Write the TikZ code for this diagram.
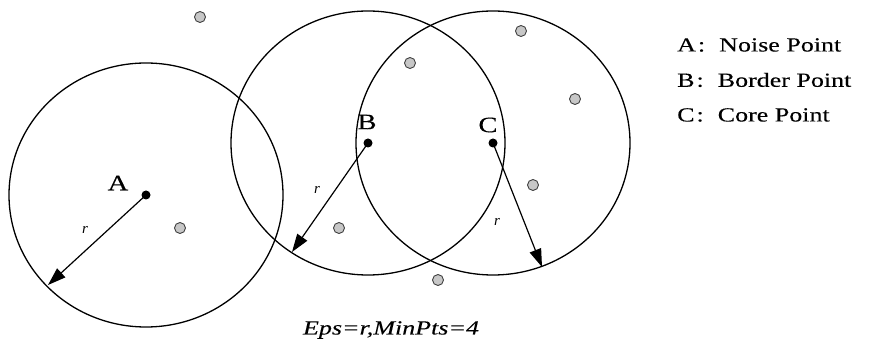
\documentclass[tikz,border=0pt]{standalone}
\usepackage{fontspec}
\setmainfont{Liberation Serif}
\newfontfamily\widefont[FakeStretch=1.3, FakeBold=0.2]{Liberation Serif}
\usetikzlibrary{arrows.meta}

\begin{document}
\begin{tikzpicture}[x=1pt, y=-1pt,
  ctr/.style={circle, fill=black, inner sep=0pt, minimum size=9pt},
  nbr/.style={circle, draw=black!75, fill=black!22, line width=0.9pt, inner sep=0pt, minimum size=11pt},
  rng/.style={line width=1.3pt},
  arr/.style={-{Triangle[length=18pt, width=12pt]}, line width=1.2pt},
  lbl/.style={font=\widefont\fontsize{22}{25}\selectfont, inner sep=0pt},
  rad/.style={font=\itshape\fontsize{15}{17}\selectfont, inner sep=0pt},
  leg/.style={font=\widefont\fontsize{20}{24}\selectfont, anchor=west, inner sep=0pt}
]
  \useasboundingbox (0,0) rectangle (870,352);

  % the three points and their Eps rings
  \node[ctr] (a) at (146,195) {};
  \node[ctr] (b) at (368,143) {};
  \node[ctr] (c) at (493,143) {};
  \draw[rng] (a.center) circle[x radius=137, y radius=132];
  \draw[rng] (b.center) circle[x radius=137, y radius=132];
  \draw[rng] (c.center) circle[x radius=137, y radius=132];

  % other points
  \node[nbr] (p1) at (200,17) {};
  \node[nbr] (p2) at (180,228) {};
  \node[nbr] (p3) at (410,63) {};
  \node[nbr] (p4) at (339,228) {};
  \node[nbr] (p5) at (438,280) {};
  \node[nbr] (p6) at (521,31) {};
  \node[nbr] (p7) at (575,99) {};
  \node[nbr] (p8) at (533,185) {};

  % radius arrows
  \coordinate (ra) at (48,285);
  \coordinate (rb) at (292,252);
  \coordinate (rc) at (542,267);
  \draw[arr] (a.center) -- (ra);
  \draw[arr] (b.center) -- (rb);
  \draw[arr] (c.center) -- (rc);
  \node[rad] (ta) at (85,230) {r};
  \node[rad] (tb) at (317,190) {r};
  \node[rad] (tc) at (497,222) {r};

  \node[lbl] (la) at (118,183) {A};
  \node[lbl] (lb) at (367,122) {B};
  \node[lbl] (lc) at (488,125) {C};

  % legend
  \node[leg] (k1) at (677,45) {A\kern2pt:\kern14pt Noise Point};
  \node[leg] (k2) at (677,80) {B\kern2pt:\kern14pt Border Point};
  \node[leg] (k3) at (677,115) {C\kern2pt:\kern14pt Core Point};

  \node[font=\widefont\itshape\fontsize{20}{23}\selectfont, inner sep=0pt] (cap) at (391,330) {Eps=r,MinPts=4};
\end{tikzpicture}
\end{document}
